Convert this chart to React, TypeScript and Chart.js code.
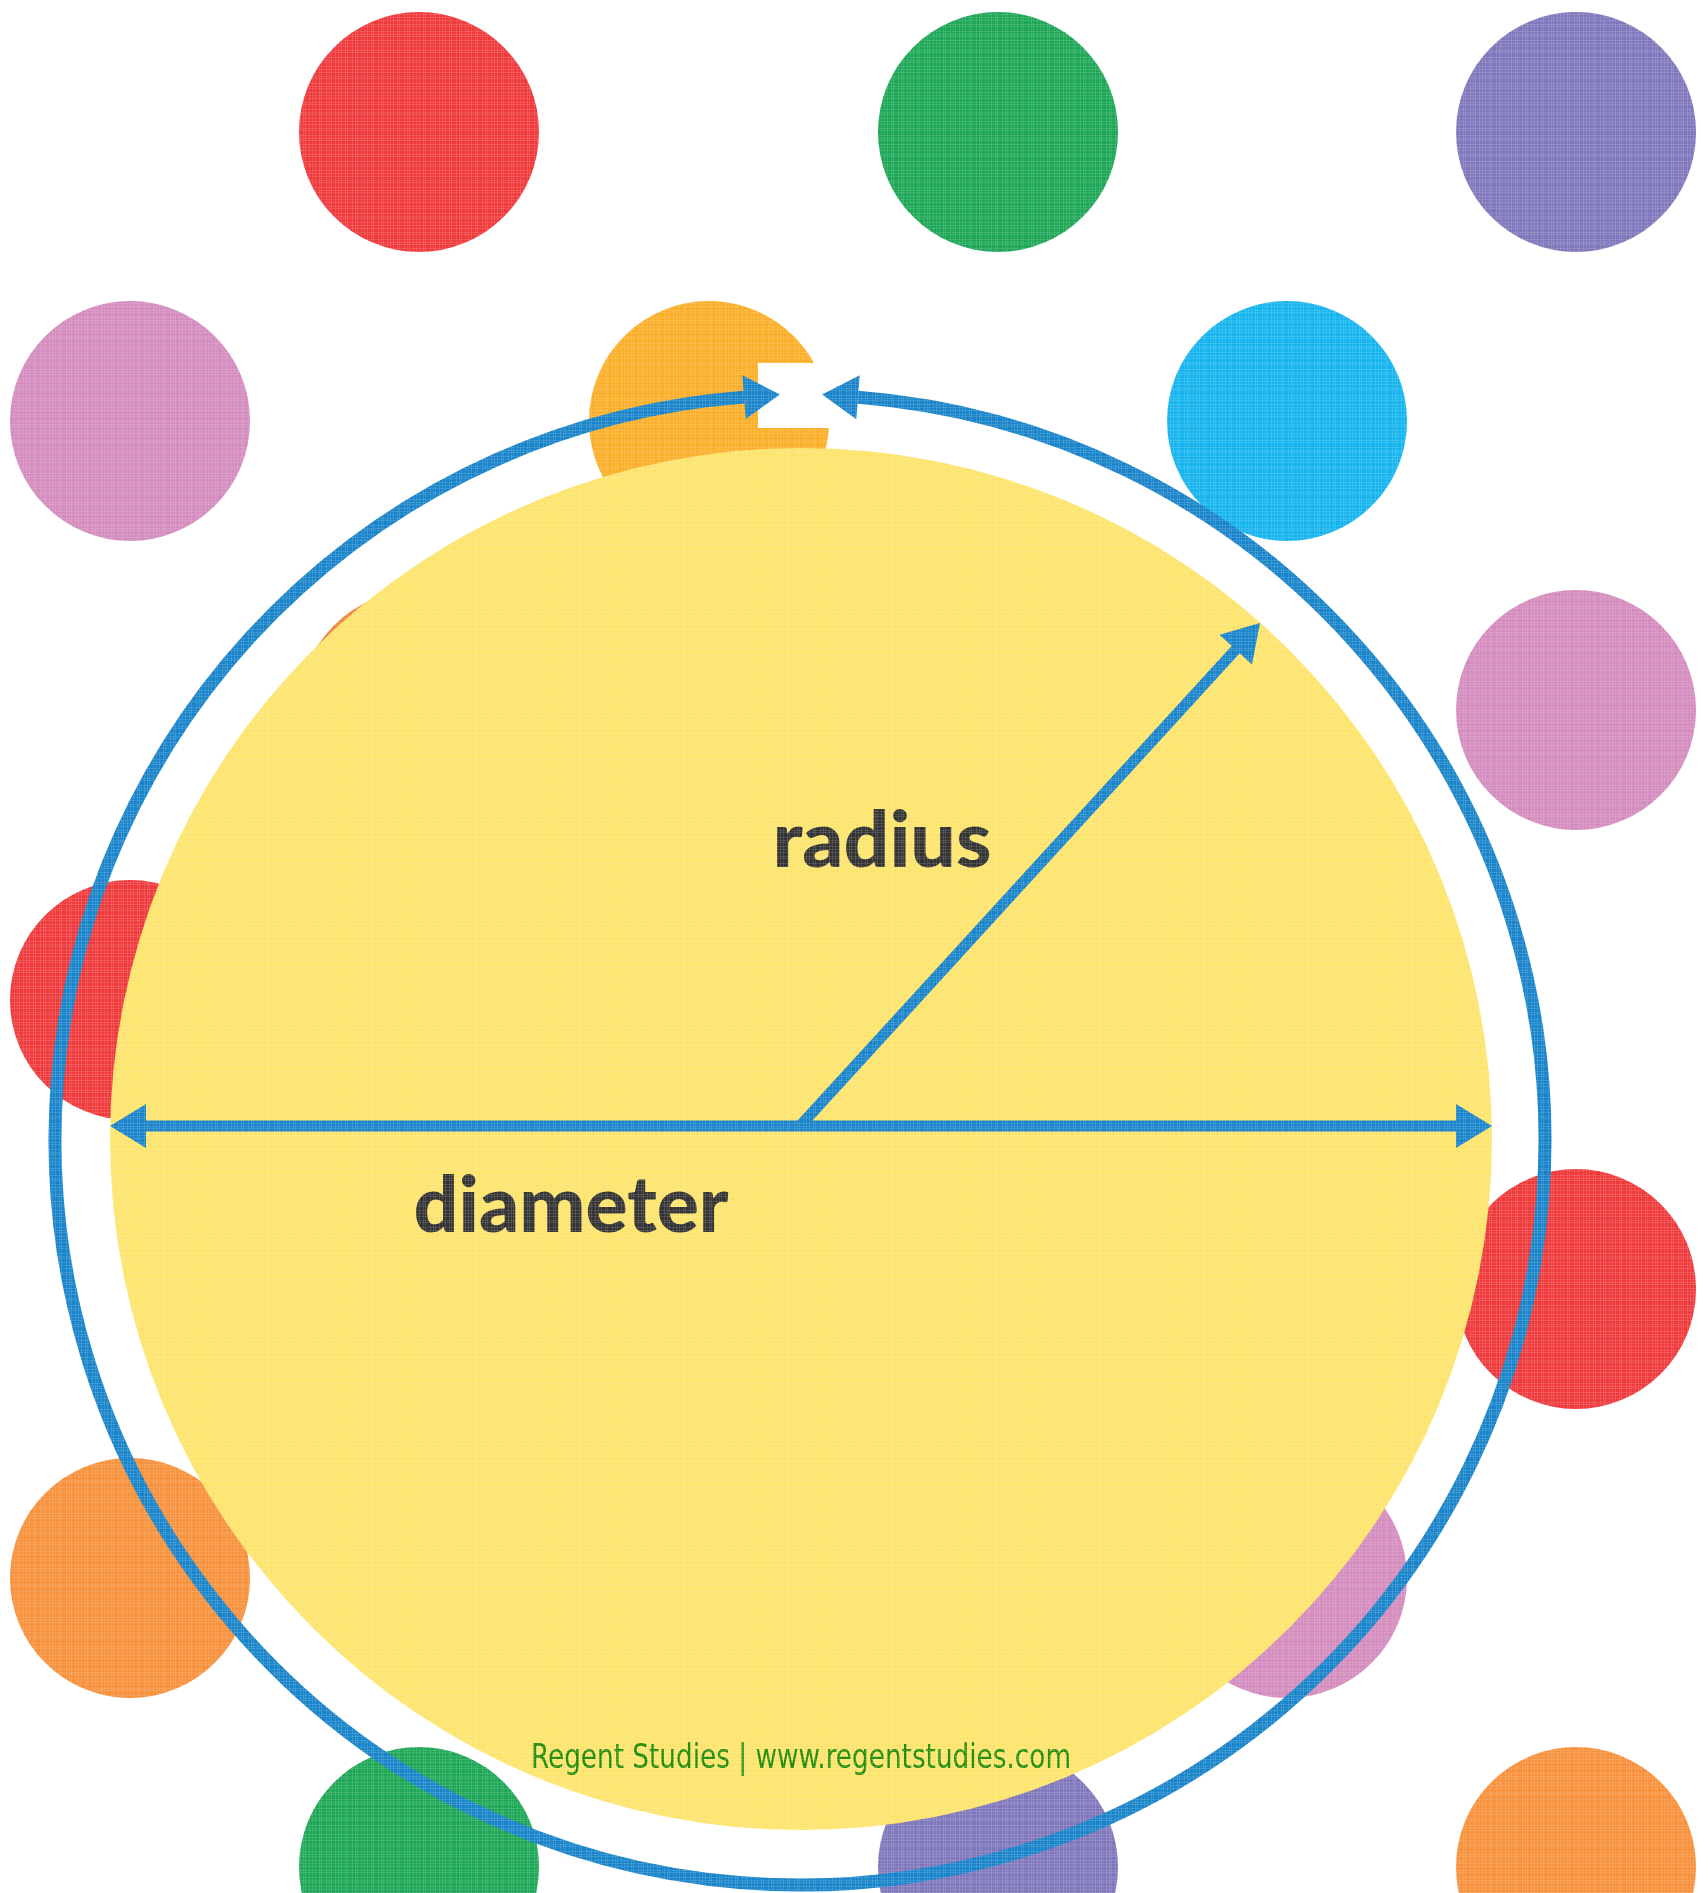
import React, { useEffect, useRef } from "react";
import { Chart, registerables } from "chart.js";

Chart.register(...registerables);

const W = 1708;
const H = 1893;

// Polka dots (centres in page units)
const dotX = [419, 998, 1576, 130, 709, 1287, 419, 1576, 130, 1576, 130, 1287, 419, 998, 1576];
const dotY = [132, 132, 132, 421, 421, 421, 710, 710, 1000, 1289, 1578, 1578, 1867, 1867, 1867];
const dotColors = [
  "#ef3a3c", "#1da757", "#7f77bb",
  "#d48bbe", "#fbaf28", "#15b4ee",
  "#f0843a", "#d48bbe",
  "#ef3a3c",
  "#ef3a3c",
  "#f7913c", "#d48bbe",
  "#1da757", "#7f77bb", "#f7913c",
];
const dotRadius = [120];

// Big yellow circle
const discCenter = [801, 1139];
const discRadius = [691];

// Blue circumference ring with the gap at the top
const ringCenter = [800, 1140];
const ringRadius = [745];
const ringGapTipsX = [780, 822];
const gapBox = [758, 363, 835, 428]; // x0, y0, x1, y1

// Diameter and radius arrows
const diameterX = [110, 1492];
const diameterY = [1126, 1126];
const radiusFrom = [800, 1126];
const radiusTo = [1260, 623];

// Labels
const labelTexts = ["radius", "diameter"];
const labelX = [882, 571];
const labelY = [867, 1232];
const labelW = [219, 315];
const footerText = "Regent Studies | www.regentstudies.com";
const footerPos = [801, 1768, 540];

const BLUE = "#1a84ca";
const HEAD_LEN = 36;
const HEAD_HALF = 22;

function arrowHead(ctx: CanvasRenderingContext2D, tx: number, ty: number, dx: number, dy: number) {
  const bx = tx - dx * HEAD_LEN;
  const by = ty - dy * HEAD_LEN;
  ctx.beginPath();
  ctx.moveTo(tx, ty);
  ctx.lineTo(bx - dy * HEAD_HALF, by + dx * HEAD_HALF);
  ctx.lineTo(bx + dy * HEAD_HALF, by - dx * HEAD_HALF);
  ctx.closePath();
  ctx.fill();
}

function fitText(ctx: CanvasRenderingContext2D, text: string, cx: number, by: number, w: number) {
  const m = ctx.measureText(text).width;
  ctx.save();
  ctx.translate(cx, by);
  ctx.scale(w / m, 1);
  ctx.textAlign = "center";
  ctx.textBaseline = "alphabetic";
  ctx.fillText(text, 0, 0);
  ctx.restore();
}

const diagramPlugin = {
  id: "diagram",
  afterDatasetsDraw(chart: any) {
    const ctx: CanvasRenderingContext2D = chart.ctx;
    const sx = chart.scales.x;
    const sy = chart.scales.y;
    const px = (v: number) => sx.getPixelForValue(v);
    const py = (v: number) => sy.getPixelForValue(v);
    const len = (v: number) => Math.abs(sx.getPixelForValue(v) - sx.getPixelForValue(0));

    ctx.save();
    // white gap box
    ctx.fillStyle = "#ffffff";
    ctx.fillRect(px(gapBox[0]), py(gapBox[1]), px(gapBox[2]) - px(gapBox[0]), py(gapBox[3]) - py(gapBox[1]));

    // ring
    const cx = px(ringCenter[0]);
    const cy = py(ringCenter[1]);
    const r = len(ringRadius[0]);
    const leftBaseX = px(ringGapTipsX[0]) - HEAD_LEN;
    const rightBaseX = px(ringGapTipsX[1]) + HEAD_LEN;
    const aL = -Math.PI / 2 - Math.asin((cx - leftBaseX) / r);
    const aR = -Math.PI / 2 + Math.asin((rightBaseX - cx) / r);
    ctx.strokeStyle = BLUE;
    ctx.fillStyle = BLUE;
    ctx.lineWidth = 13;
    ctx.lineCap = "butt";
    ctx.beginPath();
    ctx.arc(cx, cy, r, aR, aL + Math.PI * 2, false);
    ctx.stroke();
    // ring arrowheads (tangent at ends, pointing into the gap)
    {
      const bx = cx + r * Math.cos(aL), by = cy + r * Math.sin(aL);
      const dx = -Math.sin(aL), dy = Math.cos(aL);
      arrowHead(ctx, bx + dx * HEAD_LEN, by + dy * HEAD_LEN, dx, dy);
    }
    {
      const bx = cx + r * Math.cos(aR), by = cy + r * Math.sin(aR);
      const dx = Math.sin(aR), dy = -Math.cos(aR);
      arrowHead(ctx, bx + dx * HEAD_LEN, by + dy * HEAD_LEN, dx, dy);
    }

    // diameter
    ctx.lineWidth = 11;
    const x0 = px(diameterX[0]), x1 = px(diameterX[1]);
    const y0 = py(diameterY[0]), y1 = py(diameterY[1]);
    ctx.beginPath();
    ctx.moveTo(x0 + HEAD_LEN - 2, y0);
    ctx.lineTo(x1 - HEAD_LEN + 2, y1);
    ctx.stroke();
    arrowHead(ctx, x0, y0, -1, 0);
    arrowHead(ctx, x1, y1, 1, 0);

    // radius
    const rx0 = px(radiusFrom[0]), ry0 = py(radiusFrom[1]);
    const rx1 = px(radiusTo[0]), ry1 = py(radiusTo[1]);
    const L = Math.hypot(rx1 - rx0, ry1 - ry0);
    const ux = (rx1 - rx0) / L, uy = (ry1 - ry0) / L;
    ctx.beginPath();
    ctx.moveTo(rx0, ry0);
    ctx.lineTo(rx1 - ux * (HEAD_LEN - 2), ry1 - uy * (HEAD_LEN - 2));
    ctx.stroke();
    arrowHead(ctx, rx1, ry1, ux, uy);

    // labels
    ctx.fillStyle = "#333333";
    ctx.font = '900 78px Lato, "Open Sans", sans-serif';
    labelTexts.forEach((t, i) => fitText(ctx, t, px(labelX[i]), py(labelY[i]), labelW[i]));

    ctx.fillStyle = "#1f8a06";
    ctx.font = '34px "Liberation Sans Narrow", "DejaVu Sans Condensed", "Noto Sans", sans-serif';
    fitText(ctx, footerText, px(footerPos[0]), py(footerPos[1]), footerPos[2]);
    ctx.restore();
  },
};

const texturePlugin = {
  id: "texture",
  afterDraw(chart: any) {
    const ctx: CanvasRenderingContext2D = chart.ctx;
    const steps = [3, 4, 2, 5, 3, 2, 4, 3];
    ctx.save();
    ctx.fillStyle = "rgba(255,255,255,0.12)";
    let x = 0, i = 0;
    while (x < chart.width) {
      ctx.fillRect(x, 0, 1, chart.height);
      x += steps[i++ % steps.length];
    }
    let y = 0;
    i = 3;
    while (y < chart.height) {
      ctx.fillRect(0, y, chart.width, 1);
      y += steps[i++ % steps.length];
    }
    ctx.restore();
  },
};

export default function App() {
  const ref = useRef<HTMLCanvasElement>(null);
  useEffect(() => {
    document.body.style.margin = "0";
    const canvas = ref.current!;
    const radiusFromScale = (c: any) => {
      const s = c.chart.scales.x;
      const raw = c.raw as any;
      if (!s || !raw) return 0;
      return Math.abs(s.getPixelForValue(raw.r) - s.getPixelForValue(0));
    };
    const chart = new Chart(canvas, {
      type: "scatter",
      data: {
        datasets: [
          {
            label: "disc",
            order: 1,
            data: [{ x: discCenter[0], y: discCenter[1], r: discRadius[0] }] as any,
            pointRadius: radiusFromScale as any,
            pointBackgroundColor: "#fde46c",
            pointBorderWidth: 0,
            pointBorderColor: "rgba(0,0,0,0)",
          },
          {
            label: "dots",
            order: 2,
            data: dotX.map((x, i) => ({ x, y: dotY[i], r: dotRadius[0] })) as any,
            pointRadius: radiusFromScale as any,
            pointBackgroundColor: dotColors,
            pointBorderWidth: 0,
            pointBorderColor: "rgba(0,0,0,0)",
          },
        ],
      },
      options: {
        animation: false,
        responsive: false,
        devicePixelRatio: 1,
        events: [],
        layout: { padding: 0 },
        plugins: { legend: { display: false }, tooltip: { enabled: false }, title: { display: false } },
        scales: {
          x: { type: "linear", min: 0, max: W, display: false },
          y: { type: "linear", min: 0, max: H, reverse: true, display: false },
        },
      },
      plugins: [diagramPlugin, texturePlugin],
    });
    return () => chart.destroy();
  }, []);
  return <canvas ref={ref} width={W} height={H} style={{ display: "block" }} />;
}
